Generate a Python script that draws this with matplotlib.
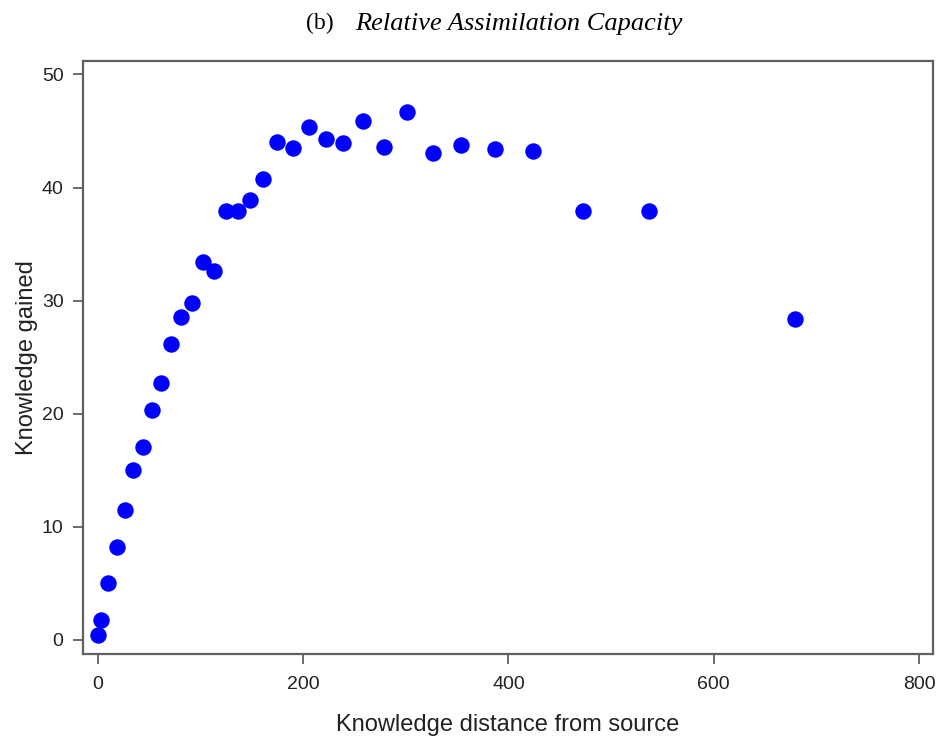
import matplotlib
matplotlib.use("Agg")
import matplotlib.pyplot as plt

# Knowledge distance from source vs knowledge gained
distance = [0.6, 2.9, 10.0, 18.5, 26.6, 34.7, 43.8, 52.9, 62.0, 71.7, 81.4,
            91.9, 102.3, 113.3, 125.0, 136.4, 148.4, 161.3, 174.9, 190.0,
            205.5, 222.1, 239.2, 258.1, 278.9, 301.3, 326.3, 353.6, 387.0,
            424.3, 472.4, 536.7, 679.2]
gained = [0.44, 1.77, 5.01, 8.25, 11.49, 15.03, 17.03, 20.34, 22.75, 26.17,
          28.53, 29.82, 33.45, 32.65, 37.96, 37.96, 38.90, 40.73, 44.06, 43.50,
          45.38, 44.32, 43.92, 45.92, 43.59, 46.68, 43.03, 43.77, 43.41, 43.26,
          37.96, 37.96, 28.38]

x_ticks = [0, 200, 400, 600, 800]
y_ticks = [0, 10, 20, 30, 40, 50]

frame_col = "#606060"
text_col = "#222222"

fig = plt.figure(figsize=(9.4, 7.4), dpi=100)
ax = fig.add_axes([0.0883, 0.1162, 0.9043, 0.8014])

ax.scatter(distance, gained, s=140, color="#0000ff", linewidths=0, zorder=3)

ax.set_xlim(-14.3, 813.6)
ax.set_ylim(-1.24, 51.19)
ax.set_xticks(x_ticks)
ax.set_yticks(y_ticks)

for sp in ax.spines.values():
    sp.set_color(frame_col)
    sp.set_linewidth(1.6)

ax.tick_params(axis="both", direction="out", length=7, width=1.3,
               color=frame_col, labelsize=14, labelcolor=text_col)
ax.tick_params(axis="x", pad=9)
ax.tick_params(axis="y", pad=7)
for lab in ax.get_xticklabels() + ax.get_yticklabels():
    lab.set_family("Liberation Sans")

ax.set_xlabel("Knowledge distance from source", family="Liberation Sans",
              fontsize=17, color=text_col, labelpad=15)
ax.set_ylabel("Knowledge gained", family="Liberation Sans",
              fontsize=17, color=text_col, labelpad=3)

# Title: upright panel letter followed by italic caption
fig.text(0.355, 0.968, "(b)", family="Liberation Serif", fontsize=17,
         ha="right", va="center")
fig.text(0.378, 0.968, "Relative Assimilation Capacity",
         family="Liberation Serif", style="italic", fontsize=19,
         ha="left", va="center")

fig.savefig("out.png", dpi=100)
